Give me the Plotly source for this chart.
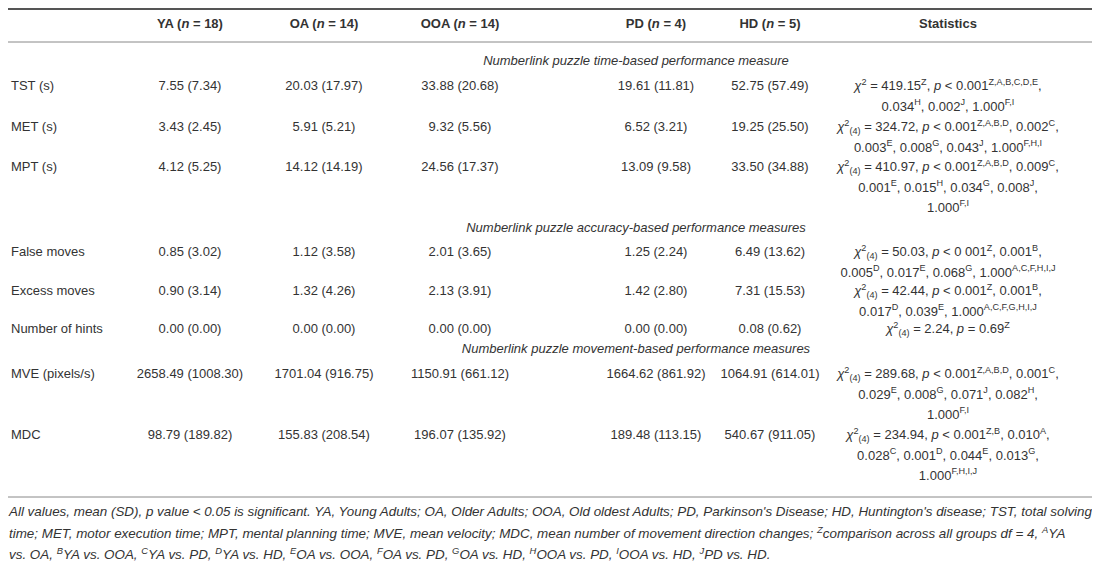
import plotly.graph_objects as go

# Column headers
GROUPS = ["YA", "OA", "OOA", "PD", "HD"]
GROUP_N = [18, 14, 14, 4, 5]

# Row labels and section titles
MEASURES = ["TST (s)", "MET (s)", "MPT (s)", "False moves", "Excess moves",
            "Number of hints", "MVE (pixels/s)", "MDC"]
SECTIONS = ["Numberlink puzzle time-based performance measure",
            "Numberlink puzzle accuracy-based performance measures",
            "Numberlink puzzle movement-based performance measures"]

# mean / SD per group, one value per measure
YA_MEAN = [7.55, 3.43, 4.12, 0.85, 0.90, 0.00, 2658.49, 98.79]
YA_SD = [7.34, 2.45, 5.25, 3.02, 3.14, 0.00, 1008.30, 189.82]
OA_MEAN = [20.03, 5.91, 14.12, 1.12, 1.32, 0.00, 1701.04, 155.83]
OA_SD = [17.97, 5.21, 14.19, 3.58, 4.26, 0.00, 916.75, 208.54]
OOA_MEAN = [33.88, 9.32, 24.56, 2.01, 2.13, 0.00, 1150.91, 196.07]
OOA_SD = [20.68, 5.56, 17.37, 3.65, 3.91, 0.00, 661.12, 135.92]
PD_MEAN = [19.61, 6.52, 13.09, 1.25, 1.42, 0.00, 1664.62, 189.48]
PD_SD = [11.81, 3.21, 9.58, 2.24, 2.80, 0.00, 861.92, 113.15]
HD_MEAN = [52.75, 19.25, 33.50, 6.49, 7.31, 0.08, 1064.91, 540.67]
HD_SD = [57.49, 25.50, 34.88, 13.62, 15.53, 0.62, 614.01, 911.05]

CHI = "<i>χ</i><sup>2</sup><sub>(4)</sub>"
STATS = [
    ["<i>χ</i><sup>2</sup> = 419.15<sup>Z</sup>, <i>p</i> &lt; 0.001<sup>Z,A,B,C,D,E</sup>,",
     "0.034<sup>H</sup>, 0.002<sup>J</sup>, 1.000<sup>F,I</sup>"],
    [CHI + " = 324.72, <i>p</i> &lt; 0.001<sup>Z,A,B,D</sup>, 0.002<sup>C</sup>,",
     "0.003<sup>E</sup>, 0.008<sup>G</sup>, 0.043<sup>J</sup>, 1.000<sup>F,H,I</sup>"],
    [CHI + " = 410.97, <i>p</i> &lt; 0.001<sup>Z,A,B,D</sup>, 0.009<sup>C</sup>,",
     "0.001<sup>E</sup>, 0.015<sup>H</sup>, 0.034<sup>G</sup>, 0.008<sup>J</sup>,",
     "1.000<sup>F,I</sup>"],
    [CHI + " = 50.03, <i>p</i> &lt; 0 001<sup>Z</sup>, 0.001<sup>B</sup>,",
     "0.005<sup>D</sup>, 0.017<sup>E</sup>, 0.068<sup>G</sup>, 1.000<sup>A,C,F,H,I,J</sup>"],
    [CHI + " = 42.44, <i>p</i> &lt; 0.001<sup>Z</sup>, 0.001<sup>B</sup>,",
     "0.017<sup>D</sup>, 0.039<sup>E</sup>, 1.000<sup>A,C,F,G,H,I,J</sup>"],
    [CHI + " = 2.24, <i>p</i> = 0.69<sup>Z</sup>"],
    [CHI + " = 289.68, <i>p</i> &lt; 0.001<sup>Z,A,B,D</sup>, 0.001<sup>C</sup>,",
     "0.029<sup>E</sup>, 0.008<sup>G</sup>, 0.071<sup>J</sup>, 0.082<sup>H</sup>,",
     "1.000<sup>F,I</sup>"],
    [CHI + " = 234.94, <i>p</i> &lt; 0.001<sup>Z,B</sup>, 0.010<sup>A</sup>,",
     "0.028<sup>C</sup>, 0.001<sup>D</sup>, 0.044<sup>E</sup>, 0.013<sup>G</sup>,",
     "1.000<sup>F,H,I,J</sup>"],
]

FOOTNOTE = [
    "All values, mean (SD), p value &lt; 0.05 is significant. YA, Young Adults; OA, Older Adults; "
    "OOA, Old oldest Adults; PD, Parkinson's Disease; HD, Huntington's disease; TST, total solving",
    "time; MET, motor execution time; MPT, mental planning time; MVE, mean velocity; MDC, mean number "
    "of movement direction changes; <sup>Z</sup>comparison across all groups df = 4, <sup>A</sup>YA",
    "vs. OA, <sup>B</sup>YA vs. OOA, <sup>C</sup>YA vs. PD, <sup>D</sup>YA vs. HD, <sup>E</sup>OA vs. OOA, "
    "<sup>F</sup>OA vs. PD, <sup>G</sup>OA vs. HD, <sup>H</sup>OOA vs. PD, <sup>I</sup>OOA vs. HD, "
    "<sup>J</sup>PD vs. HD.",
]

# layout (axis units = pixels, y grows downward)
COL_X = [182, 316, 452, 648, 762]
STAT_X = 940
HEADER_Y = 17
ROW_Y = [79, 120, 160, 245, 284, 322, 367, 428]
SECTION_Y = [54, 221, 342]
LINE_GAP = 20.3
FOOT_Y = [505, 527, 548]
TXT = "#333333"
FONT = "Liberation Sans, Arial, sans-serif"
FS = 13

means = [YA_MEAN, OA_MEAN, OOA_MEAN, PD_MEAN, HD_MEAN]
sds = [YA_SD, OA_SD, OOA_SD, PD_SD, HD_SD]

fig = go.Figure()

# header row
fig.add_trace(go.Scatter(
    x=COL_X + [STAT_X], y=[HEADER_Y] * 6, mode="text",
    text=[f"<b>{g} (<i>n</i> = {n})</b>" for g, n in zip(GROUPS, GROUP_N)] + ["<b>Statistics</b>"],
    textposition="middle center", textfont=dict(size=FS, color=TXT, family=FONT),
    hoverinfo="skip"))

# row labels
fig.add_trace(go.Scatter(
    x=[3] * len(MEASURES), y=ROW_Y, mode="text", text=MEASURES,
    textposition="middle right", textfont=dict(size=FS, color=TXT, family=FONT),
    hoverinfo="skip"))

# group columns
for cx, m, s in zip(COL_X, means, sds):
    fig.add_trace(go.Scatter(
        x=[cx] * len(m), y=ROW_Y, mode="text",
        text=[f"{a:.2f} ({b:.2f})" for a, b in zip(m, s)],
        textposition="middle center", textfont=dict(size=FS, color=TXT, family=FONT),
        hoverinfo="skip"))

# statistics column
sx, sy, st = [], [], []
for ry, lines in zip(ROW_Y, STATS):
    for i, ln in enumerate(lines):
        sx.append(STAT_X)
        sy.append(ry + i * LINE_GAP)
        st.append(ln)
fig.add_trace(go.Scatter(
    x=sx, y=sy, mode="text", text=st, textposition="middle center",
    textfont=dict(size=FS, color=TXT, family=FONT), hoverinfo="skip"))

# section titles
fig.add_trace(go.Scatter(
    x=[628] * 3, y=SECTION_Y, mode="text", text=[f"<i>{s}</i>" for s in SECTIONS],
    textposition="middle center", textfont=dict(size=FS, color=TXT, family=FONT),
    hoverinfo="skip"))

# footnote
fig.add_trace(go.Scatter(
    x=[1] * 3, y=FOOT_Y, mode="text", text=[f"<i>{f}</i>" for f in FOOTNOTE],
    textposition="middle right", textfont=dict(size=13.4, color=TXT, family=FONT),
    hoverinfo="skip"))

# horizontal rules
for y, w, c in [(1, 2, "#555555"), (34, 1, "#888888"), (489, 1, "#888888")]:
    fig.add_shape(type="line", x0=0, x1=1100, y0=y, y1=y, line=dict(color=c, width=w))

fig.update_layout(
    width=1100, height=561,
    margin=dict(l=0, r=0, t=0, b=0),
    plot_bgcolor="white", paper_bgcolor="white",
    showlegend=False,
    xaxis=dict(range=[0, 1100], visible=False, fixedrange=True),
    yaxis=dict(range=[561, 0], visible=False, fixedrange=True),
)

fig.write_html("out.html")
